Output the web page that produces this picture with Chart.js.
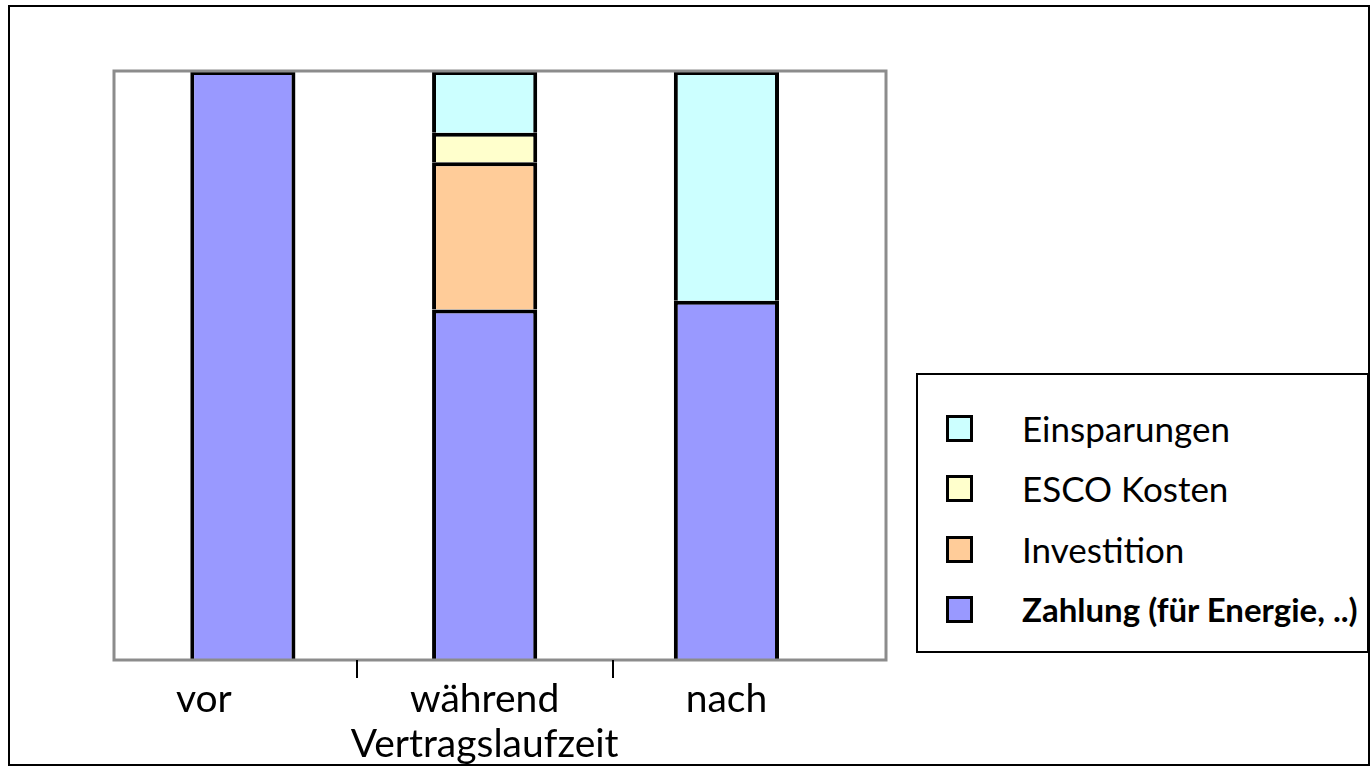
<!DOCTYPE html>
<html>
<head>
<meta charset="utf-8">
<script src="https://cdn.jsdelivr.net/npm/chart.js@4/dist/chart.umd.min.js"></script>
<style>
  body { margin: 0; background: #fff; font-family: Lato, sans-serif; }
  #wrap { position: relative; width: 1371px; height: 766px; }
  #frame { position: absolute; left: 8px; top: 5px; width: 1362px; height: 761px; border: 2px solid #000; box-sizing: border-box; pointer-events: none; }
  #legend { position: absolute; left: 916px; top: 373px; width: 453px; height: 280px; border: 2px solid #000; box-sizing: border-box; background: #fff; }
  .item { position: absolute; left: 0; height: 40px; display: flex; align-items: center; }
  .box { position: absolute; left: 28px; width: 27px; height: 27px; border: 3px solid #000; box-sizing: border-box; }
  .txt { position: absolute; left: 104px; font-size: 35px; white-space: nowrap; color: #000; }
</style>
</head>
<body>
<div id="wrap">
  <canvas id="chart"></canvas>
  <div id="frame"></div>
  <div id="legend"></div>
</div>
<script>
// --- Data ---
const categories = ['vor', ['während', 'Vertragslaufzeit'], 'nach'];
const zahlung      = [100, 59.5, 61];
const investition  = [null, 25, null];
const escoKosten   = [null, 5, null];
const einsparungen = [null, 10.5, 39];
const separators = [0.47, 1.53]; // tick marks between categories

const seriesNames = ['Zahlung (für Energie, ..)', 'Investition', 'ESCO Kosten', 'Einsparungen'];
const seriesColors = ['#9999ff', '#ffcc99', '#ffffcc', '#ccffff'];
const seriesValues = [zahlung, investition, escoKosten, einsparungen];

const toPoints = arr => arr.map((v, i) => ({x: i, y: v}));

// --- Plugins ---
const plotFrame = {
    id: 'plotFrame',
    afterDraw(chart) {
        const {ctx, chartArea: a, scales} = chart;
        ctx.save();
        ctx.strokeStyle = '#8c8c8c';
        ctx.lineWidth = 3;
        ctx.strokeRect(a.left, a.top, a.right - a.left, a.bottom - a.top);
        ctx.strokeStyle = '#000';
        ctx.lineWidth = 2;
        separators.forEach(v => {
            const x = Math.round(scales.x.getPixelForValue(v));
            ctx.beginPath();
            ctx.moveTo(x, a.bottom);
            ctx.lineTo(x, a.bottom + 18);
            ctx.stroke();
        });
        ctx.restore();
    }
};

const chart = new Chart(document.getElementById('chart'), {
    type: 'bar',
    data: {
        datasets: seriesValues.map((vals, i) => ({
            label: seriesNames[i],
            data: toPoints(vals),
            backgroundColor: seriesColors[i],
            borderColor: '#000',
            borderWidth: 4
        }))
    },
    options: {
        responsive: true,
        maintainAspectRatio: false,
        animation: false,
        layout: { padding: { left: 114, right: 485, top: 71, bottom: 0 } },
        datasets: { bar: { barPercentage: 0.435, categoryPercentage: 1 } },
        plugins: { legend: { display: false }, tooltip: { enabled: false } },
        scales: {
            x: {
                type: 'linear',
                stacked: true,
                offset: false,
                min: -0.533,
                max: 2.66,
                grid: { display: false, drawTicks: false, offset: false },
                border: { display: false },
                afterBuildTicks: scale => { scale.ticks = categories.map((c, i) => ({value: i})); },
                afterFit: scale => { scale.height = 106; },
                ticks: {
                    autoSkip: false,
                    maxRotation: 0,
                    padding: 17,
                    color: '#000',
                    font: { family: 'Lato', size: 39, lineHeight: 1.15 },
                    callback: v => {
                        const c = categories[Math.round(v)];
                        return Math.round(v) === 0 ? c + '\u2002\u2002\u2002\u2002' : c;
                    }
                }
            },
            y: {
                stacked: true,
                display: false,
                min: 0,
                max: 100
            }
        }
    },
    plugins: [plotFrame]
});

// --- Legend (top item = last series) ---
const legendDiv = document.getElementById('legend');
const rowCenters = [53, 113, 174, 234];
seriesNames.slice().reverse().forEach((name, k) => {
    const i = seriesNames.length - 1 - k;
    const row = document.createElement('div');
    row.className = 'item';
    row.style.top = (rowCenters[k] - 20) + 'px';
    row.style.width = '100%';
    const bold = i === 0 ? 'font-weight:bold;font-size:33px;' : '';
    row.innerHTML = `<span class="box" style="background:${seriesColors[i]}"></span>` +
        `<span class="txt" style="${bold}">${name}</span>`;
    legendDiv.appendChild(row);
});
</script>
</body>
</html>
